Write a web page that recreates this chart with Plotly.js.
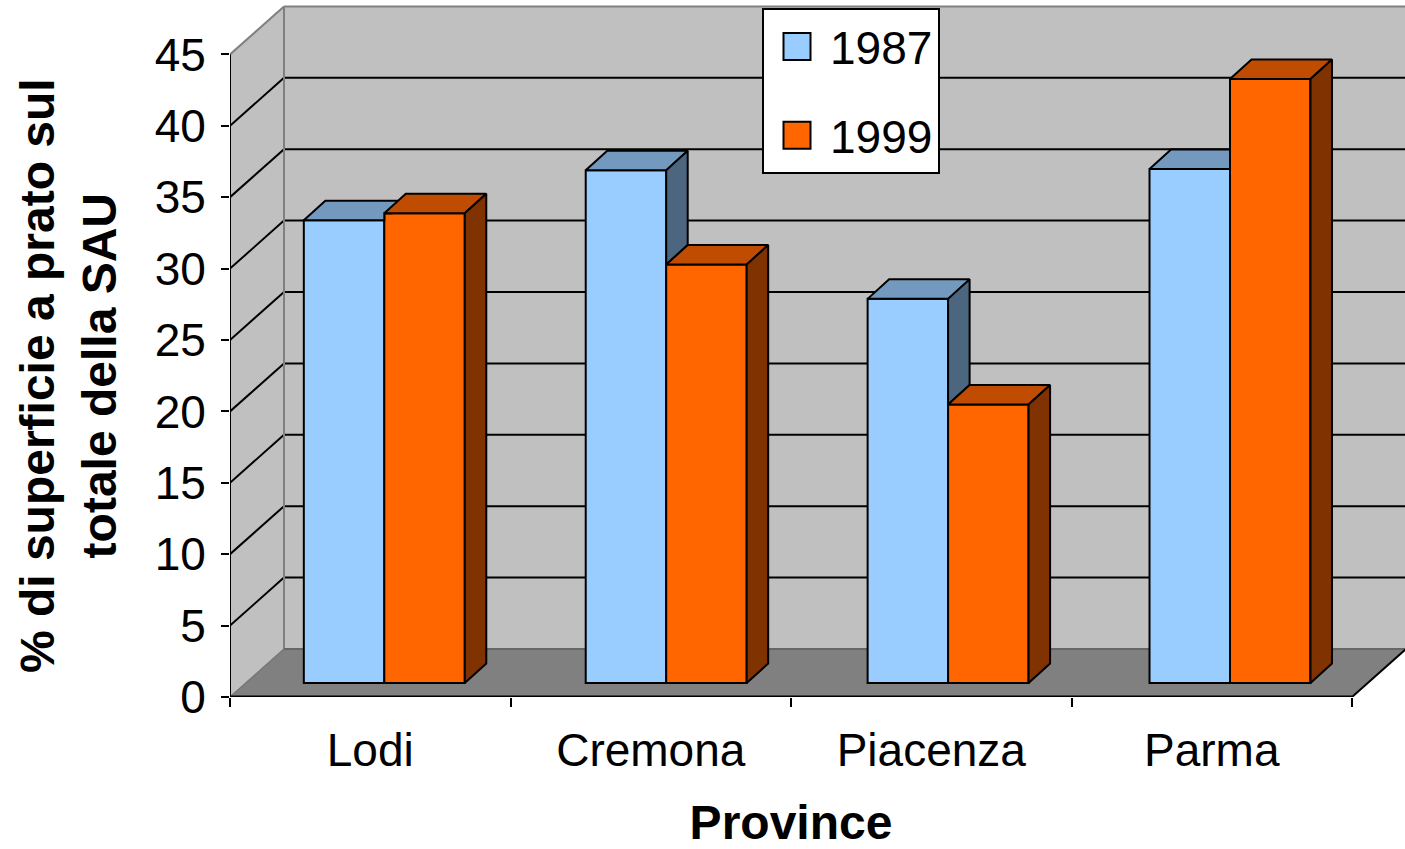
<!DOCTYPE html>
<html><head><meta charset="utf-8">
<script src="https://cdn.plot.ly/plotly-3.0.1.min.js"></script>
<style>html,body{margin:0;padding:0;background:#fff}</style>
</head><body>
<div id="chart" style="width:1405px;height:849px"></div>
<script>
// ---- data ----
const provinces = ["Lodi", "Cremona", "Piacenza", "Parma"];
const seriesNames = ["1987", "1999"];
const values1987 = [32.4, 35.9, 26.9, 36.0];
const values1999 = [32.9, 29.3, 19.5, 42.3];
const yTicks = [0, 5, 10, 15, 20, 25, 30, 35, 40, 45];
const yTitle = "% di superficie a prato sul<br>totale della SAU";
const xTitle = "Province";

// ---- style / geometry ----
const FONT = "Arial, 'Liberation Sans', sans-serif";
const FS = 46, FS_TITLE = 48;
const COL87 = {front: "#99CCFF", top: "#7399BF", side: "#4D6680"};
const COL99 = {front: "#FF6600", top: "#BF4C00", side: "#803300"};
const L = 230, R = 0, T = 0, B = 152;
const W = 1405 - L - R, H = 849 - T - B;
const CAT_PX_FRONT = 280.5, CAT_PX_BAR = 281.9, VAL_PX = 14.28;
const BAR_ORIGIN_PX = 154.3, BAR_BASE_PX = 14;
const DEPTH_PX = [54, 48], BAR_DEPTH_PX = [21.5, 19.5];
const BARGAP = 0.429;

const xmin = -0.5, xmax = provinces.length - 0.5, ymax = yTicks[yTicks.length - 1];
const catIdx = provinces.map((_, i) => i);
const xFront = [xmin, xmin + W / CAT_PX_FRONT];
const yFront = [0, H / VAL_PX];
const xBar = [-BAR_ORIGIN_PX / CAT_PX_BAR, (W - BAR_ORIGIN_PX) / CAT_PX_BAR];
const yBar = [-BAR_BASE_PX / VAL_PX, (H - BAR_BASE_PX) / VAL_PX];
const DX = DEPTH_PX[0] / CAT_PX_FRONT, DY = DEPTH_PX[1] / VAL_PX;
const BDX = BAR_DEPTH_PX[0] / CAT_PX_BAR, BDY = BAR_DEPTH_PX[1] / VAL_PX;
const frontDomX = [0, (xmax - xmin) * CAT_PX_FRONT / W];
const frontDomY = [0, ymax * VAL_PX / H];

function pathOf(pts, close) {
  return pts.map((p, k) => (k ? "L" : "M") + p[0] + "," + p[1]).join(" ") + (close ? " Z" : "");
}
function polyShape(pts, fill) {
  return {type: "path", xref: "x2", yref: "y2", layer: "below", path: pathOf(pts, true),
          fillcolor: fill, line: {width: 0}};
}
function lineShape(a, b, color, width) {
  return {type: "line", xref: "x2", yref: "y2", layer: "below", x0: a[0], y0: a[1], x1: b[0], y1: b[1],
          line: {color: color, width: width}};
}

const shapes = [];
shapes.push(polyShape([[xmin + DX, DY], [xmax + DX, DY], [xmax + DX, ymax + DY], [xmin + DX, ymax + DY]], "#C0C0C0"));
shapes.push(polyShape([[xmin, 0], [xmin, ymax], [xmin + DX, ymax + DY], [xmin + DX, DY]], "#C0C0C0"));
shapes.push(polyShape([[xmin, 0], [xmax, 0], [xmax + DX, DY], [xmin + DX, DY]], "#808080"));
yTicks.forEach(v => {
  if (v > 0 && v < ymax) {
    shapes.push(lineShape([xmin, v], [xmin + DX, v + DY], "#000", 2));
    shapes.push(lineShape([xmin + DX, v + DY], [xmax + DX, v + DY], "#000", 2));
  }
});
shapes.push(lineShape([xmin, ymax], [xmin + DX, ymax + DY], "#808080", 2));
shapes.push(lineShape([xmin + DX, ymax + DY], [xmax + DX, ymax + DY], "#808080", 2));
shapes.push(lineShape([xmin + DX, DY], [xmin + DX, ymax + DY], "#808080", 2));
shapes.push(lineShape([xmin + DX, DY], [xmax + DX, DY], "#666666", 2));
shapes.push(lineShape([xmin, 0], [xmin + DX, DY], "#777777", 1.5));
shapes.push(lineShape([xmax, 0], [xmax + DX, DY], "#000", 2));
shapes.push(lineShape([xmin, 0], [xmin, ymax], "#000", 2));

// ---- traces ----
const traces = [];
traces.push({type: "bar", name: seriesNames[0], x: catIdx, y: values1987, xaxis: "x", yaxis: "y",
  marker: {color: COL87.front, line: {color: "#000", width: 2}}, legendgroup: "a", hoverinfo: "y"});
traces.push({type: "bar", name: seriesNames[1], x: catIdx, y: values1999, xaxis: "x", yaxis: "y",
  marker: {color: COL99.front, line: {color: "#000", width: 2}}, legendgroup: "b", hoverinfo: "y"});

function face(pts, fill) {
  return {type: "scatter", mode: "lines", x: pts.map(p => p[0]).concat([pts[0][0]]),
    y: pts.map(p => p[1]).concat([pts[0][1]]), fill: "toself", fillcolor: fill,
    line: {color: "#000", width: 2}, xaxis: "x", yaxis: "y", showlegend: false, hoverinfo: "skip"};
}
const w = (1 - BARGAP) / 2;
catIdx.forEach(i => {
  const h1 = values1987[i], h2 = values1999[i];
  // 1987 box (left); its top face is partly hidden by a taller 1999 box
  let X0 = i - w, X1 = i;
  let top87;
  if (h2 >= h1 + BDY) {
    top87 = [[X0, h1], [X1, h1], [X1, h1 + BDY], [X0 + BDX, h1 + BDY]];
  } else if (h2 > h1) {
    top87 = [[X0, h1], [X1, h1], [X1, h2], [X1 + (h2 - h1) * BDX / BDY, h2],
             [X1 + BDX, h1 + BDY], [X0 + BDX, h1 + BDY]];
  } else {
    top87 = [[X0, h1], [X1, h1], [X1 + BDX, h1 + BDY], [X0 + BDX, h1 + BDY]];
  }
  traces.push(face(top87, COL87.top));
  if (h1 > h2) {
    traces.push(face([[X1, h2], [X1, h1], [X1 + BDX, h1 + BDY], [X1 + BDX, h2 + BDY]], COL87.side));
  }
  // 1999 box (right)
  X0 = i; X1 = i + w;
  traces.push(face([[X0, h2], [X1, h2], [X1 + BDX, h2 + BDY], [X0 + BDX, h2 + BDY]], COL99.top));
  traces.push(face([[X1, 0], [X1, h2], [X1 + BDX, h2 + BDY], [X1 + BDX, BDY]], COL99.side));
});
// category axis line (front edge of the floor)
traces.push({type: "scatter", mode: "lines", x: [xmin, xmax], y: [0, 0], xaxis: "x3", yaxis: "y3",
  line: {color: "#000", width: 3}, showlegend: false, hoverinfo: "skip", cliponaxis: false});

const layout = {
  width: 1405, height: 849, margin: {l: L, r: R, t: T, b: B}, autosize: false,
  paper_bgcolor: "#fff", plot_bgcolor: "rgba(0,0,0,0)",
  font: {family: FONT, size: FS, color: "#000"},
  barmode: "group", bargap: BARGAP, bargroupgap: 0,
  showlegend: true,
  legend: {x: (762 - L) / W, y: 1 - 8 / H, xanchor: "left", yanchor: "top", bgcolor: "#fff",
    bordercolor: "#000", borderwidth: 2, font: {family: FONT, size: FS, color: "#000"},
    traceorder: "grouped", tracegroupgap: 26, itemwidth: 56, entrywidth: 176},
  xaxis: {range: xBar, visible: false, fixedrange: true},
  yaxis: {range: yBar, visible: false, fixedrange: true},
  xaxis2: {overlaying: "x", anchor: "y2", range: xFront, tickmode: "array",
    tickvals: catIdx.map(i => i - 0.5).concat([xmax]), ticks: "outside", ticklen: 9, tickwidth: 2,
    tickcolor: "#000", showticklabels: false, showgrid: false, zeroline: false, showline: false},
  yaxis2: {overlaying: "y", anchor: "x2", range: yFront, visible: false},
  xaxis3: {anchor: "y3", domain: frontDomX, range: [xmin, xmax], tickmode: "array", tickvals: catIdx,
    ticktext: provinces, ticks: "", showgrid: false, zeroline: false, showline: false,
    tickfont: {family: FONT, size: FS, color: "#000"}, ticklabelstandoff: 22,
    title: {text: xTitle, font: {family: FONT, size: FS_TITLE, color: "#000", weight: "bold"}, standoff: 34}},
  yaxis3: {anchor: "x3", domain: frontDomY, range: [0, ymax], tickmode: "array", tickvals: yTicks,
    ticks: "outside", ticklen: 8, tickwidth: 2, tickcolor: "#000", showgrid: false, zeroline: false,
    showline: false, tickfont: {family: FONT, size: FS, color: "#000"}, ticklabelstandoff: 6,
    title: {text: yTitle, font: {family: FONT, size: FS_TITLE, color: "#000", weight: "bold"}, standoff: 22}},
  shapes: shapes
};

Plotly.newPlot("chart", traces, layout, {displayModeBar: false, staticPlot: true}).then(() => {
  document.querySelectorAll(".legend .legendpoints path").forEach(p => {
    p.setAttribute("d", "M13.5,13.5H-13.5V-13.5H13.5Z");
  });
});
</script>
</body></html>
